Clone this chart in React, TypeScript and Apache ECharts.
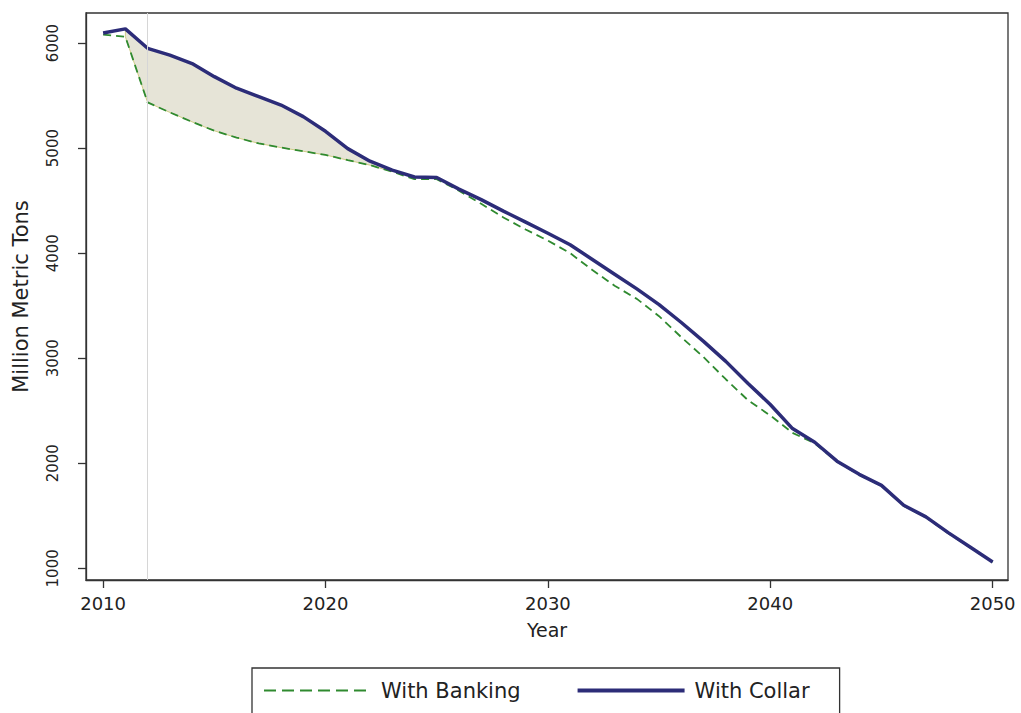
import React, { useEffect, useRef } from "react";
import * as echarts from "echarts";

const years = [
  2010, 2011, 2012, 2013, 2014, 2015, 2016, 2017, 2018, 2019,
  2020, 2021, 2022, 2023, 2024, 2025, 2026, 2027, 2028, 2029,
  2030, 2031, 2032, 2033, 2034, 2035, 2036, 2037, 2038, 2039,
  2040, 2041, 2042, 2043, 2044, 2045, 2046, 2047, 2048, 2049, 2050,
];

const withCollar = [
  6095, 6135, 5950, 5885, 5805, 5680, 5570, 5490, 5410, 5300,
  5160, 4995, 4875, 4790, 4725, 4720, 4610, 4510, 4400, 4295,
  4190, 4080, 3940, 3800, 3660, 3510, 3340, 3160, 2970, 2760,
  2560, 2330, 2200, 2020, 1895, 1790, 1600, 1490, 1340, 1200, 1060,
];

const withBanking = [
  6080, 6060, 5435, 5340, 5250, 5165, 5100, 5045, 5005, 4970,
  4935, 4885, 4838, 4775, 4705, 4705, 4595, 4470, 4340, 4225,
  4120, 4000, 3840, 3690, 3565, 3400, 3200, 3010, 2800, 2600,
  2455, 2290, 2190, 2015, 1890, 1785, 1595, 1485, 1335, 1195, 1060,
];

const bandFirstYear = 2011;
const bandLastYear = 2023;
const bankingStartYear = 2012;

const xTicks = [2010, 2020, 2030, 2040, 2050];
const yTicks = [1000, 2000, 3000, 4000, 5000, 6000];

const seriesNames = ["With Banking", "With Collar"];

export default function App() {
  const ref = useRef<HTMLDivElement>(null);

  useEffect(() => {
    if (!ref.current) return;
    const chart = echarts.init(ref.current, undefined, { renderer: "svg" });

    const bandIdx: number[] = [];
    years.forEach((y, i) => {
      if (y >= bandFirstYear && y <= bandLastYear) bandIdx.push(i);
    });

    const font = "DejaVu Sans";

    chart.setOption({
      animation: false,
      backgroundColor: "#ffffff",
      grid: {
        left: 86,
        right: 13,
        top: 13,
        bottom: 133,
        show: true,
        borderColor: "#333",
        borderWidth: 1.3,
        backgroundColor: "transparent",
      },
      xAxis: {
        type: "value",
        min: 2009.23,
        max: 2050.69,
        name: "Year",
        nameLocation: "middle",
        nameGap: 40,
        nameTextStyle: { fontFamily: font, fontSize: 19, color: "#222" },
        axisLine: { show: true, onZero: false, lineStyle: { color: "#333", width: 1.3 } },
        axisTick: { show: true, length: 8, customValues: xTicks, lineStyle: { color: "#333", width: 1.3 } },
        axisLabel: {
          customValues: xTicks,
          margin: 14,
          fontFamily: font,
          fontSize: 18,
          color: "#222",
          formatter: (v: number) => String(v),
        },
        splitLine: { show: false },
      },
      yAxis: {
        type: "value",
        min: 889,
        max: 6286,
        name: "Million Metric Tons",
        nameLocation: "middle",
        nameGap: 55,
        nameTextStyle: { fontFamily: font, fontSize: 21, color: "#222" },
        axisLine: { show: true, onZero: false, lineStyle: { color: "#333", width: 1.3 } },
        axisTick: { show: true, length: 8, customValues: yTicks, lineStyle: { color: "#333", width: 1.3 } },
        axisLabel: {
          customValues: yTicks,
          rotate: 90,
          margin: 26,
          fontFamily: font,
          fontSize: 15,
          color: "#222",
          formatter: (v: number) => String(v),
        },
        splitLine: { show: false },
      },
      legend: {
        data: [
          { name: seriesNames[0], lineStyle: { width: 2, type: [12, 6] }, itemStyle: { opacity: 0 } },
          { name: seriesNames[1], lineStyle: { width: 4 }, itemStyle: { opacity: 0 } },
        ],
        left: 252,
        top: 668,
        orient: "horizontal",
        itemWidth: 107,
        itemHeight: 14,
        itemGap: 55,
        padding: [12, 30, 20, 11],
        borderColor: "#333",
        borderWidth: 1.3,
        textStyle: { fontFamily: font, fontSize: 21, color: "#222", padding: [0, 0, 0, 5] },
      },
      series: [
        {
          name: "band",
          type: "custom",
          silent: true,
          z: 1,
          data: [[bandFirstYear, withBanking[bandIdx[0]]]],
          renderItem: (params: any, api: any) => {
            const top = bandIdx.map((i) => api.coord([years[i], withCollar[i]]));
            const bottom = bandIdx
              .slice()
              .reverse()
              .map((i) => api.coord([years[i], withBanking[i]]));
            return {
              type: "polygon",
              shape: { points: top.concat(bottom) },
              style: { fill: "#e6e4d7", stroke: "#cfcd86", lineWidth: 1 },
            };
          },
        },
        {
          name: "startLine",
          type: "line",
          data: [],
          symbol: "none",
          silent: true,
          z: 2,
          markLine: {
            silent: true,
            symbol: "none",
            label: { show: false },
            lineStyle: { color: "#d6d6d6", type: "solid", width: 1 },
            data: [{ xAxis: bankingStartYear }],
          },
        },
        {
          name: seriesNames[0],
          type: "line",
          data: years.map((y, i) => [y, withBanking[i]]),
          symbol: "none",
          lineStyle: { color: "#2f8a2f", width: 1.8, type: [8, 5] },
          itemStyle: { color: "#2f8a2f" },
          z: 3,
        },
        {
          name: seriesNames[1],
          type: "line",
          data: years.map((y, i) => [y, withCollar[i]]),
          symbol: "none",
          lineStyle: { color: "#2c2c78", width: 3.5 },
          itemStyle: { color: "#2c2c78" },
          z: 4,
        },
      ],
    });

    return () => chart.dispose();
  }, []);

  return (
    <div
      ref={ref}
      style={{ position: "absolute", left: 0, top: 0, width: 1021, height: 713, background: "#fff" }}
    />
  );
}
